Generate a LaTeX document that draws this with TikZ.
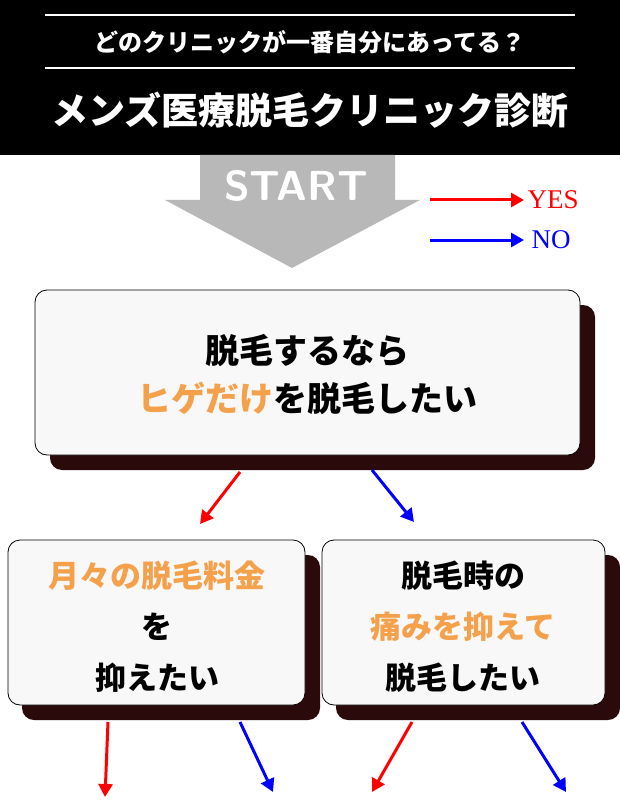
\documentclass[tikz,border=0pt]{standalone}
\usepackage{fontspec}
\newfontfamily\jp{Noto Sans CJK JP}
\setmainfont{Liberation Serif}
\usetikzlibrary{positioning,arrows.meta}
\definecolor{hlorange}{HTML}{F5A04A}
\definecolor{shadowbrown}{HTML}{2A0A0A}
\definecolor{boxfill}{HTML}{F8F8F8}
\tikzset{
	qbox/.style={draw=black, thick, fill=boxfill, rounded corners=12pt},
	qshadow/.style={fill=shadowbrown, rounded corners=12pt},
	qtext/.style={font=\jp\bfseries\fontsize{34}{48}\selectfont, align=center},
	yesarrow/.style={red, line width=3pt, -{Triangle[length=13pt,width=14pt]}},
	noarrow/.style={blue, line width=3pt, -{Triangle[length=13pt,width=14pt]}},
}
\begin{document}
\begin{tikzpicture}[x=1pt,y=-1pt]
	\useasboundingbox (0,0) rectangle (620,802);
	
	% Header
	\fill[black] (0,0) rectangle (620,155);
	\draw[white, line width=1.5pt] (45,15) -- (575,15);
	\draw[white, line width=1.5pt] (45,68) -- (575,68);
	\node (subtitle) [white, font=\jp\bfseries\fontsize{24}{26}\selectfont] at (310,42) {どのクリニックが一番自分にあってる？};
	\node (title) [white, font=\jp\bfseries\fontsize{37}{40}\selectfont] at (310,110) {メンズ医療脱毛クリニック診断};
	
	% Start arrow
	\fill[black!28] (200,155) -- (395,155) -- (395,200) -- (420,200) -- (292,268) -- (165,200) -- (200,200) -- cycle;
	\node (start) [white, font=\sffamily\bfseries\fontsize{42}{44}\selectfont] at (296,186) {START};
	
	% Legend
	\coordinate (yesA) at (430,200); \coordinate (yesB) at (524,200);
	\coordinate (noA) at (430,240);  \coordinate (noB) at (524,240);
	\draw[yesarrow] (yesA) -- (yesB);
	\draw[noarrow] (noA) -- (noB);
	\node (yes) [red, font=\fontsize{27}{28}\selectfont, right=0pt of yesB] {YES};
	\node (no) [blue, font=\fontsize{27}{28}\selectfont, right=4pt of noB] {NO};
	
	% Question boxes
	\fill[qshadow] (50,305) rectangle (595,470);
	\draw[qbox] (35,290) rectangle (580,455);
	\node (q1) [qtext] at (307,375) {脱毛するなら\\{\color{hlorange}ヒゲだけ}を脱毛したい};
	
	\fill[qshadow] (22,555) rectangle (320,720);
	\draw[qbox] (8,540) rectangle (305,705);
	\node (q2) [qtext, font=\jp\bfseries\fontsize{31}{51}\selectfont] at (157,627) {{\color{hlorange}月々の脱毛料金}\\を\\抑えたい};
	
	\fill[qshadow] (336,555) rectangle (620,720);
	\draw[qbox] (322,540) rectangle (605,705);
	\node (q3) [qtext, font=\jp\bfseries\fontsize{31}{51}\selectfont] at (463,627) {脱毛時の\\{\color{hlorange}痛みを抑えて}\\脱毛したい};
	
	% Connectors
	\coordinate (r1a) at (240,472); \coordinate (r1b) at (200,524);
	\coordinate (b1a) at (372,470); \coordinate (b1b) at (414,522);
	\draw[yesarrow] (r1a) -- (r1b);
	\draw[noarrow] (b1a) -- (b1b);
	
	\coordinate (r2a) at (108,722); \coordinate (r2b) at (105,797);
	\coordinate (b2a) at (240,722); \coordinate (b2b) at (273,792);
	\coordinate (r3a) at (412,722); \coordinate (r3b) at (372,792);
	\coordinate (b3a) at (522,722); \coordinate (b3b) at (566,792);
	\draw[yesarrow] (r2a) -- (r2b);
	\draw[noarrow] (b2a) -- (b2b);
	\draw[yesarrow] (r3a) -- (r3b);
	\draw[noarrow] (b3a) -- (b3b);
	
\end{tikzpicture}
\end{document}
